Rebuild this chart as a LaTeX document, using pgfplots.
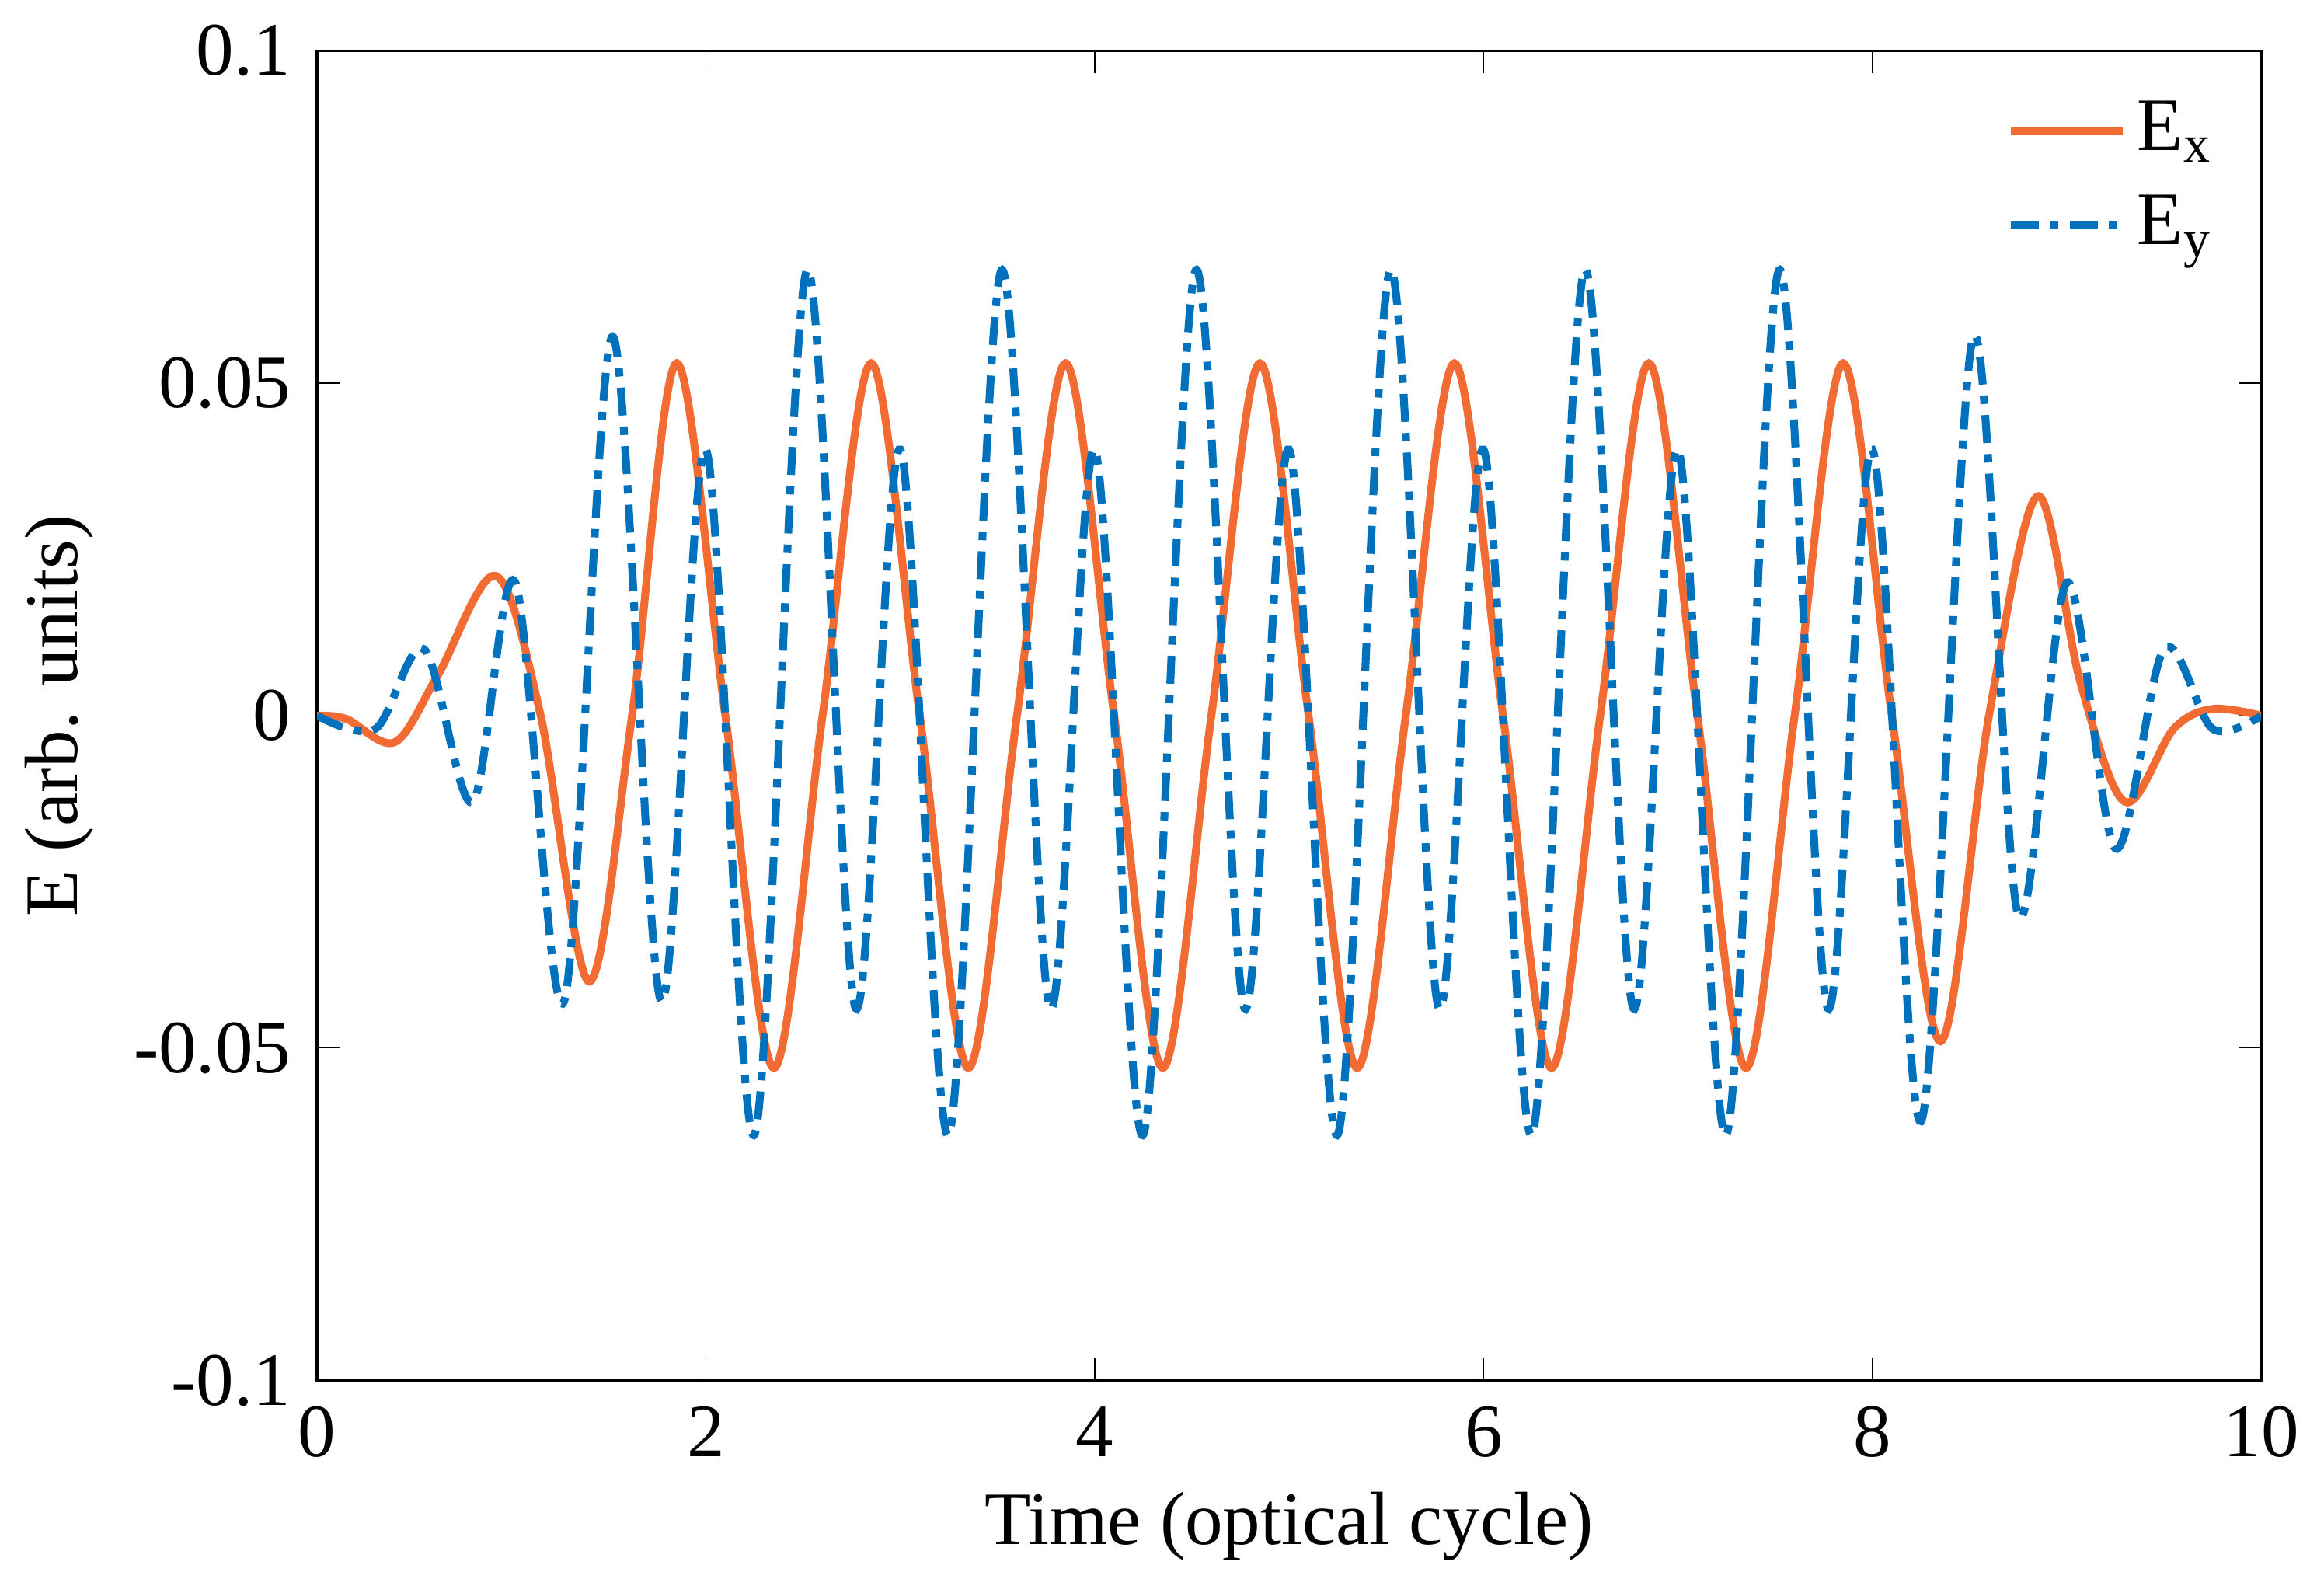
\documentclass[border=0pt]{standalone}
\usepackage{pgfplots}
\pgfplotsset{compat=1.18}
\usepackage{fontspec}
\setmainfont{Liberation Serif}
\definecolor{exc}{HTML}{F26B32}
\definecolor{eyc}{HTML}{0072BD}
\begin{document}
\fontsize{13.5}{16}\selectfont
\begin{tikzpicture}
\begin{axis}[scale only axis, width=348pt, height=238pt,
 xmin=0,xmax=10,ymin=-0.1,ymax=0.1,
 xtick={0,2,...,10}, ytick={-0.1,-0.05,0,0.05,0.1},
 yticklabels={-0.1,-0.05,0,0.05,0.1},
 /pgf/number format/assume math mode=true,
 tick align=inside, tick pos=both, major tick length=4pt,
 axis line style={line width=0.5pt}, tick style={black},
 xlabel={Time (optical cycle)}, ylabel={E (arb. units)},
 xlabel style={yshift=3pt}, ylabel style={yshift=-2pt},
 legend style={draw=none, fill=none, at={(0.99,0.98)}, anchor=north east, row sep=2pt},
 legend cell align=left,
 legend image code/.code={\draw[#1] (0cm,0cm) -- (0.7cm,0cm);},
]
\addplot[exc, line width=1.4pt, smooth, tension=0.55] coordinates {
(0,0) (0.15,-0.0005) (0.4,-0.004) (0.62,0.006) (0.92,0.021) (1.15,0) (1.4,-0.040) (1.62,0) (1.85,0.053)
(2.1,0) (2.35,-0.053) (2.6,0) (2.85,0.053)
(3.1,0) (3.35,-0.053) (3.6,0) (3.85,0.053)
(4.1,0) (4.35,-0.053) (4.6,0) (4.85,0.053)
(5.1,0) (5.35,-0.053) (5.6,0) (5.85,0.053)
(6.1,0) (6.35,-0.053) (6.6,0) (6.85,0.053)
(7.1,0) (7.35,-0.053) (7.6,0) (7.85,0.053)
(8.1,0) (8.35,-0.049) (8.6,0) (8.85,0.033) (9.07,0.005) (9.3,-0.013) (9.55,-0.002) (9.75,0.001) (10,0)};
\addlegendentry{E\textsubscript{x}}
\addplot[eyc, line width=1.4pt, dash pattern=on 5pt off 2pt on 1.5pt off 2pt, smooth, tension=0.55] coordinates {
(0,0) (0.3,-0.002) (0.55,0.010) (0.8,-0.013) (1.02,0.020) (1.27,-0.043) (1.52,0.057) (1.77,-0.043)
(2.0,0.040) (2.25,-0.063) (2.52,0.067) (2.77,-0.044)
(3.0,0.040) (3.25,-0.063) (3.52,0.067) (3.77,-0.044)
(4.0,0.040) (4.25,-0.063) (4.52,0.067) (4.77,-0.044)
(5.0,0.040) (5.25,-0.063) (5.52,0.067) (5.77,-0.044)
(6.0,0.040) (6.25,-0.063) (6.52,0.067) (6.77,-0.044)
(7.0,0.040) (7.25,-0.063) (7.52,0.067) (7.77,-0.044)
(8.0,0.040) (8.25,-0.061) (8.52,0.057) (8.75,-0.030)
(9.0,0.020) (9.25,-0.020) (9.5,0.010) (9.75,-0.002) (10,0)};
\addlegendentry{E\textsubscript{y}}
\end{axis}
\end{tikzpicture}
\end{document}
